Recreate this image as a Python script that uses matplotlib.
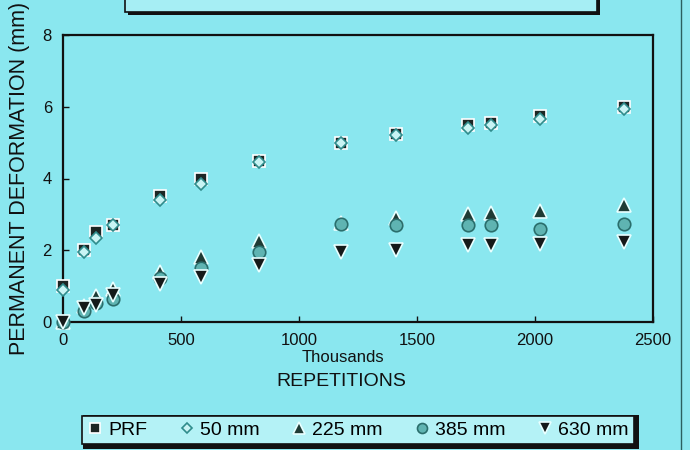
import matplotlib
matplotlib.use("Agg")
import matplotlib.pyplot as plt
from matplotlib.patches import Rectangle
from matplotlib.lines import Line2D

# ─── Data ──────────────────────────────────────────────────────────────────────

REPS_K = [0, 90, 140, 210, 410, 585, 830, 1180, 1410, 1715, 1815, 2020, 2375]

PRF    = [1.00, 2.00, 2.50, 2.70, 3.50, 4.00, 4.50, 5.00, 5.25, 5.50, 5.55, 5.75, 6.00]
MM_50  = [0.90, 1.95, 2.35, 2.70, 3.40, 3.85, 4.45, 5.00, 5.20, 5.40, 5.50, 5.65, 5.95]
MM_225 = [0.00, 0.45, 0.72, 0.92, 1.40, 1.82, 2.25, 2.75, 2.90, 3.02, 3.05, 3.10, 3.27]
MM_385 = [0.00, 0.30, 0.52, 0.65, 1.22, 1.50, 1.95, 2.72, 2.70, 2.70, 2.70, 2.58, 2.72]
MM_630 = [0.00, 0.40, 0.48, 0.75, 1.05, 1.25, 1.58, 1.95, 2.00, 2.15, 2.15, 2.18, 2.22]

X_TICKS = [0, 500, 1000, 1500, 2000, 2500]
Y_TICKS = [0, 2, 4, 6, 8]

BG = "#8ae7ef"
FONT = "Liberation Sans"

# marker styles: label, values, marker, face, edge
SERIES = [
    ("PRF",    PRF,    "s", "#1c2624", "white"),
    ("50 mm",  MM_50,  "D", "#c8f4f4", "#2f8c8c"),
    ("225 mm", MM_225, "^", "#1f3b35", "#e8ffff"),
    ("385 mm", MM_385, "o", "#5fb4b2", "#2a6e6c"),
    ("630 mm", MM_630, "v", "#151a1a", "#e8ffff"),
]
SIZES = {"s": 9, "D": 6, "^": 10, "o": 9, "v": 10}

plt.rcParams["font.family"] = [FONT, "DejaVu Sans"]

fig = plt.figure(figsize=(6.9, 4.5), dpi=100, facecolor=BG)
ax = fig.add_axes([63 / 690, 1 - 322 / 450, 590 / 690, 287 / 450])
ax.set_facecolor(BG)

for label, vals, mk, face, edge in SERIES:
    ax.plot(REPS_K, vals, linestyle="none", marker=mk, markersize=SIZES[mk],
            markerfacecolor=face, markeredgecolor=edge, markeredgewidth=1.2,
            label=label, clip_on=False, zorder=3)

ax.set_xlim(0, 2500)
ax.set_ylim(0, 8)
ax.set_xticks(X_TICKS)
ax.set_yticks(Y_TICKS)
ax.tick_params(direction="in", length=4, width=1, labelsize=12, colors="#111111")
ax.tick_params(axis="x", pad=8)
ax.tick_params(axis="y", pad=8)
for s in ax.spines.values():
    s.set_linewidth(1.6)
    s.set_color("#111111")

fig.text(20 / 690, 1 - 178 / 450, "PERMANENT DEFORMATION (mm)", rotation=90,
         ha="center", va="center", fontsize=15.5, color="#111111")
fig.text(343 / 690, 1 - 357 / 450, "Thousands", ha="center", va="center",
         fontsize=12, color="#111111")
fig.text(341 / 690, 1 - 382 / 450, "REPETITIONS", ha="center", va="center",
         fontsize=14, color="#111111")

# cut-off title box at the top, with shadow
fig.add_artist(Rectangle((128 / 690, 1 - 15 / 450), 472 / 690, 20 / 450,
                         transform=fig.transFigure, facecolor="#111111",
                         edgecolor="none", zorder=1))
fig.add_artist(Rectangle((125 / 690, 1 - 12 / 450), 472 / 690, 20 / 450,
                         transform=fig.transFigure, facecolor="#a6eef4",
                         edgecolor="#111111", linewidth=1.2, zorder=2))

# outer frame line at the right edge
fig.add_artist(Line2D([681 / 690, 681 / 690], [0, 1], transform=fig.transFigure,
                      color="#2a6060", linewidth=1.0))

# legend box with shadow
fig.add_artist(Rectangle((83 / 690, 1 - 449 / 450), 556 / 690, 34 / 450,
                         transform=fig.transFigure, facecolor="#111111",
                         edgecolor="none", zorder=1))
leg = fig.legend(loc="center", bbox_to_anchor=(358 / 690, 1 - 430 / 450),
                 ncol=5, fontsize=14, frameon=True, fancybox=False,
                 handlelength=0.8, handletextpad=0.3, columnspacing=1.6,
                 borderpad=0.25, borderaxespad=0)
leg.get_frame().set_facecolor("#b4f2f6")
leg.get_frame().set_edgecolor("#111111")
leg.get_frame().set_linewidth(1.2)
leg.get_frame().set_alpha(1)
leg.set_zorder(3)
for h in leg.legend_handles:
    h.set_markersize(h.get_markersize() * 0.8)

fig.savefig("out.png", dpi=100, facecolor=BG)
